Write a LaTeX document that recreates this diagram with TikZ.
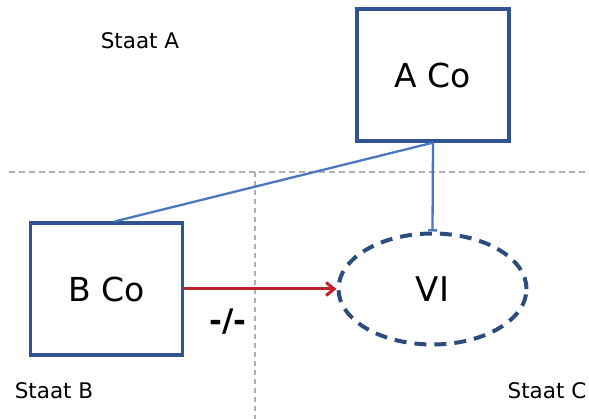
\documentclass[tikz,border=0pt]{standalone}
\usepackage{fontspec}
\setmainfont{DejaVu Sans}
\usetikzlibrary{shapes.geometric,arrows.meta}
\definecolor{boxblue}{HTML}{2F5491}
\definecolor{ellblue}{HTML}{2C4D7C}
\definecolor{linkblue}{HTML}{4A78C0}
\definecolor{arrred}{HTML}{C0222A}
\definecolor{gridgray}{HTML}{B0B0B0}
\tikzset{
  cobox/.style={draw=boxblue, line width=3.3pt, minimum width=152pt, minimum height=132pt, inner sep=0pt, font=\fontsize{33}{36}\selectfont},
  viell/.style={ellipse, draw=ellblue, line width=4pt, dash pattern=on 12pt off 8pt, minimum width=188pt, minimum height=111pt, inner sep=0pt, font=\fontsize{34}{36}\selectfont},
  staat/.style={inner sep=0pt, font=\fontsize{21.5}{24}\selectfont},
  grid/.style={draw=gridgray, line width=1.8pt, dash pattern=on 6pt off 4pt},
  link/.style={draw=linkblue, line width=2.3pt},
  redarr/.style={draw=arrred, line width=3pt, -{Straight Barb[length=8pt,width=13pt]}},
}
\begin{document}
\begin{tikzpicture}[x=1pt,y=-1pt]
\useasboundingbox (0,0) rectangle (589,419);
\coordinate (h1) at (9,172);
\coordinate (h2) at (589,172);
\coordinate (v1) at (255,172);
\coordinate (v2) at (255,419);
\draw[grid] (h1) -- (h2);
\draw[grid, line width=1.5pt, dash pattern=on 5pt off 4pt] (v1) -- (v2);
\node[cobox] (A) at (433,75) {A Co};
\node[cobox] (B) at (106.5,289) {B Co};
\node[viell] (VI) at (432.5,289) {VI};
\node[staat] (sa) at (140,41) {Staat A};
\node[staat] (sb) at (54,391) {Staat B};
\node[staat] (sc) at (547,391) {Staat C};
\node[inner sep=0pt, font=\bfseries\fontsize{31}{34}\selectfont] (neg) at (228,322) {-/-};
\draw[link] (A.south) -- ([xshift=8.5pt]B.north);
\draw[link, -{Bar[width=9pt]}] (A.south) -- (VI.north);
\draw[redarr] (B.east) -- (VI.west);
\end{tikzpicture}
\end{document}
